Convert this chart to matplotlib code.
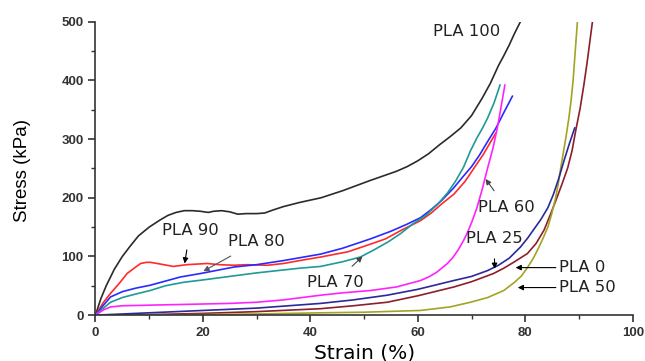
import numpy as np
import matplotlib
matplotlib.use("Agg")
import matplotlib.pyplot as plt
from matplotlib.ticker import MultipleLocator

plt.rcParams['font.family'] = ['Liberation Sans', 'DejaVu Sans']

# strain (%) / stress (kPa)
pla100_x = [0, 1, 2, 3.5, 5, 6.5, 8, 10, 12, 13.5, 15, 16.5, 18, 19.5, 21, 22, 23.5, 25, 26.5, 28, 30, 31.5,
            33, 35, 38, 42, 46, 51, 56, 58, 60, 62, 64, 66, 68, 70, 72, 73.5, 75, 76, 77, 78, 79.1]
pla100_y = [0, 28, 50, 78, 100, 118, 135, 150, 162, 170, 175, 178, 178, 177, 175, 177, 178, 176, 172, 173, 173, 174,
            179, 185, 192, 200, 212, 229, 245, 253, 263, 275, 290, 304, 319, 340, 370, 395, 425, 442, 460, 480, 500]

pla90_x = [0, 1.5, 2.8, 4.5, 5.9, 7.2, 8.4, 9.5, 10.2, 11.5, 13.3, 14.5, 17, 20.8, 23, 25.8, 28, 32, 35, 38,
           41.9, 47, 51.2, 54, 57, 60.5, 62.5, 64.5, 66.7, 68.8, 70.5, 72.2, 73.6, 74.5]
pla90_y = [0, 22, 37, 55, 71, 80, 88, 90, 90, 88, 85, 83, 86, 88, 86, 85, 86, 85, 88, 93,
           99, 108, 121, 130, 145, 161, 174, 190, 206, 228, 251, 274, 296, 310]

pla80_x = [0, 1.5, 2.8, 5, 7.5, 10.2, 13, 15.8, 19.6, 25.8, 30, 35, 41.9, 46, 51.2, 55, 58, 60.5, 62.5,
           64.5, 66.7, 68.5, 70, 71.5, 73, 74.5, 76, 77.6]
pla80_y = [0, 17, 31, 40, 46, 51, 58, 65, 71, 82, 86, 93, 104, 114, 130, 143, 155, 166, 180,
           196, 217, 237, 253, 273, 296, 318, 345, 373]

pla70_x = [0, 1.5, 2.8, 5, 7.5, 10.2, 13, 16.4, 20, 25.8, 30, 35, 38, 41.9, 46, 49.3, 52, 54.5, 56.8,
           59, 61.5, 63.7, 65.5, 67, 68.5, 69.8, 71, 72, 73, 74.2, 75.3]
pla70_y = [0, 12, 22, 30, 36, 42, 50, 56, 60, 67, 72, 77, 80, 83, 91, 99, 112, 125, 139,
           155, 170, 189, 208, 228, 252, 280, 302, 318, 336, 362, 392]

pla60_x = [0, 1.5, 2.8, 5, 10, 15, 20, 25, 30, 35, 41.9, 46, 51.2, 56, 60.5, 62, 63.5, 65.5, 66.5, 67.5,
           68.5, 69.3, 70.1, 71, 72, 73, 74, 74.8, 75.5, 76.2]
pla60_y = [0, 9, 14, 16, 17, 18, 19, 20, 22, 26, 34, 38, 42, 48, 59, 65, 73, 88, 98, 111,
           127, 142, 160, 183, 215, 251, 285, 319, 355, 392]

pla25_x = [0, 5, 10, 20, 30, 41.9, 48, 54.3, 60, 66.7, 70, 73, 75, 77, 79.1, 80.5, 81.5, 82.9, 84.2,
           85.2, 86.2, 87.2, 88.2, 89.2]
pla25_y = [0, 2, 4, 8, 12, 20, 26, 34, 44, 59, 66, 76, 85, 97, 116, 132, 145, 163, 183,
           205, 232, 263, 292, 319]

pla0_x = [0, 10, 20, 30, 41.9, 48, 54.3, 60, 66.7, 70, 74.1, 76, 78, 80.4, 82, 83.5, 84.7, 85.8, 86.9,
          87.9, 88.7, 89.4, 90.2, 90.9, 91.5, 92, 92.5]
pla0_y = [0, 1, 3, 6, 11, 16, 22, 33, 48, 57, 71, 80, 91, 105, 122, 145, 172, 198, 225,
          251, 280, 315, 352, 392, 430, 465, 500]

pla50_x = [0, 10, 20, 30, 42, 50, 60.5, 66, 69.8, 73, 76, 78, 79.3, 80.4, 81.5, 82.5, 83.4, 84.2, 84.9,
           85.6, 86.1, 86.6, 87.1, 87.6, 88.1, 88.5, 88.9, 89.3, 89.7]
pla50_y = [0, 0, 1, 2, 4, 5, 8, 14, 22, 30, 42, 56, 67, 81, 97, 115, 133, 150, 172,
           198, 222, 251, 278, 305, 335, 364, 400, 450, 500]

series = [
    (pla100_x, pla100_y, '#2b2b2b'),
    (pla90_x, pla90_y, '#ff2a2a'),
    (pla80_x, pla80_y, '#2a2aff'),
    (pla70_x, pla70_y, '#1f9a95'),
    (pla60_x, pla60_y, '#ff22ff'),
    (pla0_x, pla0_y, '#8b1f2a'),
    (pla50_x, pla50_y, '#a3a324'),
    (pla25_x, pla25_y, '#2a2a9a'),
]

fig = plt.figure(figsize=(6.45, 3.61), dpi=100)
ax = fig.add_axes([0.148, 0.127, 0.833, 0.813])

for x, y, c in series:
    ax.plot(x, y, color=c, lw=1.2, solid_joinstyle='round')

ax.set_xlim(0, 100)
ax.set_ylim(0, 500)
ax.xaxis.set_major_locator(MultipleLocator(20))
ax.xaxis.set_minor_locator(MultipleLocator(10))
ax.yaxis.set_major_locator(MultipleLocator(100))
ax.yaxis.set_minor_locator(MultipleLocator(50))
for s in ['top', 'right']:
    ax.spines[s].set_visible(False)
for s in ['left', 'bottom']:
    ax.spines[s].set_color('#333333')
    ax.spines[s].set_linewidth(1.2)
ax.tick_params(which='major', direction='out', length=5, width=1.2, color='#333333',
               labelsize=9.5, labelcolor='#333333')
ax.tick_params(which='minor', direction='out', length=3, width=1.0, color='#333333')
for lab in ax.get_xticklabels() + ax.get_yticklabels():
    lab.set_fontweight('bold')

ax.set_xlabel('Strain (%)', fontsize=14.5, family='DejaVu Sans', labelpad=3)
ax.set_ylabel('Stress (kPa)', fontsize=13.5)
ax.yaxis.set_label_coords(-0.12, 0.494)

afs = 11.8
akw = dict(fontsize=afs, family='DejaVu Sans', va='center', color='#222222')
ax.text(62.9, 483, 'PLA 100', ha='left', **akw)
ax.annotate('PLA 90', xy=(16.6, 88), xytext=(17.6, 145), ha='center', **akw,
            arrowprops=dict(arrowstyle='-|>', color='black', lw=0.8, mutation_scale=8, shrinkA=7, shrinkB=0))
ax.annotate('PLA 80', xy=(20.1, 75), xytext=(30, 125), ha='center', **akw,
            arrowprops=dict(arrowstyle='-|>', color='#555555', lw=0.8, mutation_scale=8, shrinkA=6, shrinkB=0))
ax.annotate('PLA 70', xy=(49.7, 100), xytext=(44.6, 56), ha='center', **akw,
            arrowprops=dict(arrowstyle='-|>', color='#444444', lw=0.8, mutation_scale=8, shrinkA=6, shrinkB=0))
ax.annotate('PLA 60', xy=(72.6, 232), xytext=(76.5, 183), ha='center', **akw,
            arrowprops=dict(arrowstyle='-|>', color='#444444', lw=0.8, mutation_scale=8, shrinkA=6, shrinkB=0))
ax.annotate('PLA 25', xy=(74.3, 79), xytext=(74.2, 130), ha='center', **akw,
            arrowprops=dict(arrowstyle='-|>', color='black', lw=0.8, mutation_scale=8, shrinkA=7, shrinkB=0))
ax.annotate('PLA 0', xy=(78.2, 81), xytext=(86.2, 81), ha='left', **akw,
            arrowprops=dict(arrowstyle='-|>', color='black', lw=0.8, mutation_scale=8, shrinkA=0, shrinkB=0))
ax.annotate('PLA 50', xy=(78.6, 47), xytext=(86.2, 47), ha='left', **akw,
            arrowprops=dict(arrowstyle='-|>', color='black', lw=0.8, mutation_scale=8, shrinkA=0, shrinkB=0))

fig.savefig('out.png', dpi=100)
